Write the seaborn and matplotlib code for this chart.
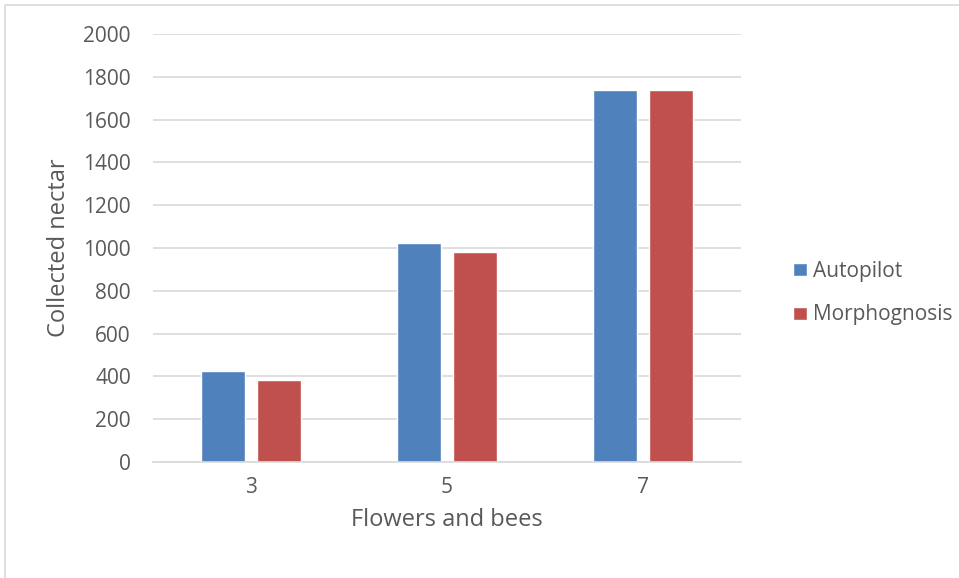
import matplotlib
matplotlib.use("Agg")
import matplotlib.pyplot as plt
import seaborn as sns
import pandas as pd
from matplotlib.patches import Rectangle

categories = ["3", "5", "7"]
autopilot = [425, 1022, 1740]
morphognosis = [383, 980, 1740]
series_names = ["Autopilot", "Morphognosis"]
yticks = [0, 200, 400, 600, 800, 1000, 1200, 1400, 1600, 1800, 2000]

df = pd.DataFrame({
    "Flowers and bees": categories * 2,
    "value": autopilot + morphognosis,
    "series": [series_names[0]] * 3 + [series_names[1]] * 3,
})

sns.set_theme(style="white")
plt.rcParams["font.family"] = ["Open Sans", "DejaVu Sans"]

W, H = 959, 578
fig = plt.figure(figsize=(W / 100, H / 100), dpi=100)
ax = fig.add_axes([153 / W, 1 - 462 / H, (741 - 153) / W, (462 - 34) / H])

sns.barplot(data=df, x="Flowers and bees", y="value", hue="series",
            palette=["#4F81BD", "#C0504D"], width=0.571, gap=0.214,
            order=categories, ax=ax, saturation=1, legend=True)

ax.set_ylim(0, 2000)
ax.set_xlim(-0.5, 2.5)
ax.set_yticks(yticks)
ax.yaxis.grid(True, color="#D9D9D9", linewidth=1.2)
ax.set_axisbelow(True)
for s in ["top", "right", "left"]:
    ax.spines[s].set_visible(False)
ax.spines["bottom"].set_color("#D9D9D9")
ax.spines["bottom"].set_linewidth(1.2)
ax.tick_params(axis="both", length=0, labelsize=15, labelcolor="#595959")
ax.tick_params(axis="x", pad=11)
ax.tick_params(axis="y", pad=16)
ax.set_xlabel("Flowers and bees", fontsize=17, color="#595959", labelpad=7)
ax.set_ylabel("Collected nectar", fontsize=17, color="#595959", labelpad=9)

handles, labels = ax.get_legend_handles_labels()
ax.legend(handles, labels, loc="center left", bbox_to_anchor=(774.5 / W, 1 - 293 / H),
          bbox_transform=fig.transFigure, frameon=False, fontsize=15,
          labelcolor="#595959", handlelength=0.67, handleheight=0.6,
          handletextpad=0.3, labelspacing=1.1)

fig.patches.append(Rectangle((5 / W, -0.1), 2, 1.1 - 5 / H, transform=fig.transFigure,
                             fill=False, edgecolor="#D9D9D9", linewidth=1.2))

fig.savefig("out.png", dpi=100)
